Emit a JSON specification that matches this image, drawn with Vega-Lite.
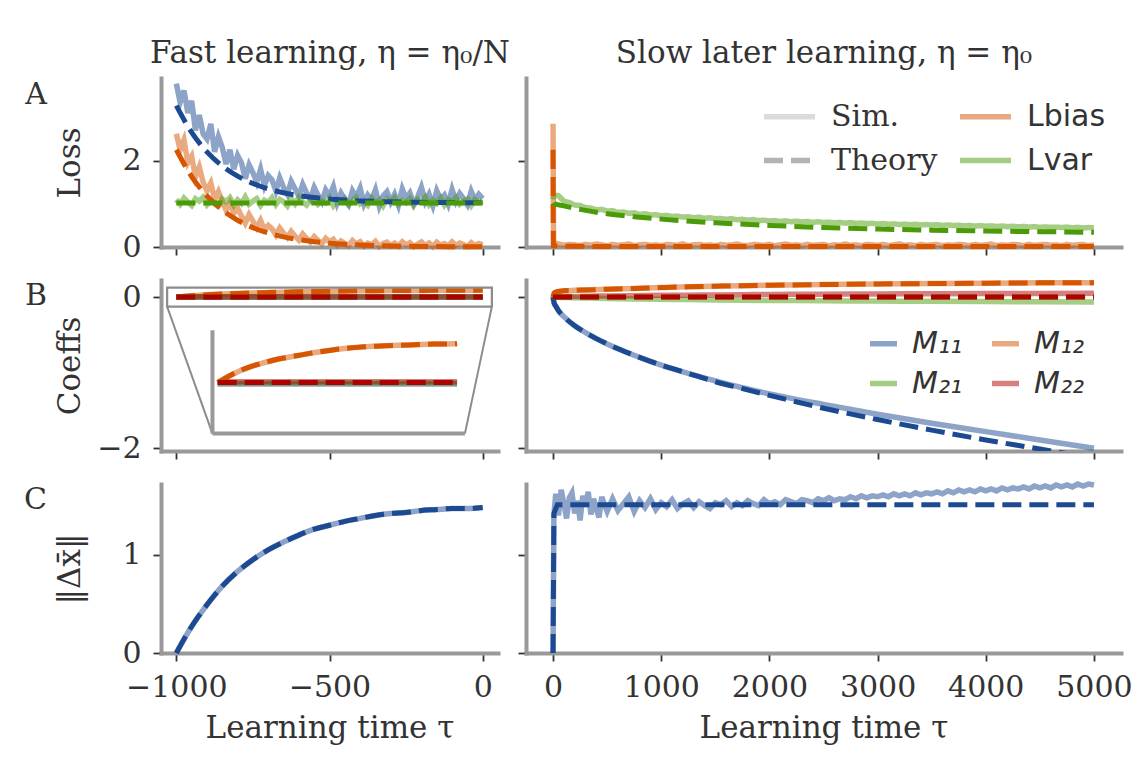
{
"$schema": "https://vega.github.io/schema/vega-lite/v6.json",
"background": "white",
"padding": {"left": 24, "top": 37, "right": 10, "bottom": 5},
"columns": 2,
"align": "each",
"bounds": "flush",
"spacing": {"row": 33, "column": 28},
"resolve": {"scale": {"color": "independent", "strokeDash": "independent"}, "legend": {"color": "independent", "strokeDash": "independent"}},
"datasets": {
"lossFastSim": [
{"t":-1000,"L":3.78,"Lbias":2.62,"Lvar":1.10},{"t":-987.5,"L":3.35,"Lbias":2.25,"Lvar":0.99},{"t":-975,"L":3.62,"Lbias":2.48,"Lvar":1.13},{"t":-962.5,"L":3.10,"Lbias":1.95,"Lvar":1.04},{"t":-950,"L":3.38,"Lbias":2.10,"Lvar":0.96},{"t":-937.5,"L":2.70,"Lbias":1.62,"Lvar":1.12},{"t":-925,"L":3.05,"Lbias":1.85,"Lvar":1.06},{"t":-912.5,"L":2.62,"Lbias":1.50,"Lvar":1.15},{"t":-900,"L":2.50,"Lbias":1.30,"Lvar":0.98},{"t":-887.5,"L":2.85,"Lbias":1.48,"Lvar":1.08},
{"t":-875,"L":2.20,"Lbias":1.10,"Lvar":1.02},{"t":-862.5,"L":2.55,"Lbias":1.28,"Lvar":0.95},{"t":-850,"L":2.30,"Lbias":1.05,"Lvar":1.11},{"t":-837.5,"L":1.92,"Lbias":0.85,"Lvar":1.05},{"t":-825,"L":2.25,"Lbias":1.02,"Lvar":1.14},{"t":-812.5,"L":1.80,"Lbias":0.78,"Lvar":0.97},{"t":-800,"L":2.12,"Lbias":0.90,"Lvar":1.09},{"t":-787.5,"L":1.95,"Lbias":0.72,"Lvar":1.01},{"t":-775,"L":1.58,"Lbias":0.55,"Lvar":1.16},{"t":-762.5,"L":1.90,"Lbias":0.75,"Lvar":0.99},
{"t":-750,"L":1.72,"Lbias":0.60,"Lvar":1.06},{"t":-737.5,"L":1.50,"Lbias":0.45,"Lvar":1.12},{"t":-725,"L":1.80,"Lbias":0.62,"Lvar":0.96},{"t":-712.5,"L":1.42,"Lbias":0.40,"Lvar":1.08},{"t":-700,"L":1.65,"Lbias":0.50,"Lvar":1.03},{"t":-687.5,"L":1.55,"Lbias":0.42,"Lvar":1.14},{"t":-675,"L":1.30,"Lbias":0.28,"Lvar":0.98},{"t":-662.5,"L":1.60,"Lbias":0.44,"Lvar":1.10},{"t":-650,"L":1.38,"Lbias":0.32,"Lvar":1.05},{"t":-637.5,"L":1.22,"Lbias":0.22,"Lvar":0.95},
{"t":-625,"L":1.52,"Lbias":0.36,"Lvar":1.12},{"t":-612.5,"L":1.35,"Lbias":0.25,"Lvar":1.00},{"t":-600,"L":1.18,"Lbias":0.16,"Lvar":1.15},{"t":-587.5,"L":1.45,"Lbias":0.30,"Lvar":1.04},{"t":-575,"L":1.25,"Lbias":0.20,"Lvar":0.97},{"t":-562.5,"L":1.12,"Lbias":0.12,"Lvar":1.09},{"t":-550,"L":1.38,"Lbias":0.24,"Lvar":1.13},{"t":-537.5,"L":1.20,"Lbias":0.15,"Lvar":0.99},{"t":-525,"L":1.05,"Lbias":0.08,"Lvar":1.07},{"t":-512.5,"L":1.32,"Lbias":0.20,"Lvar":1.02},
{"t":-500,"L":1.18,"Lbias":0.12,"Lvar":1.14},{"t":-487.5,"L":1.40,"Lbias":0.18,"Lvar":0.96},{"t":-475,"L":1.02,"Lbias":0.05,"Lvar":1.10},{"t":-462.5,"L":1.25,"Lbias":0.14,"Lvar":1.05},{"t":-450,"L":1.10,"Lbias":0.08,"Lvar":1.12},{"t":-437.5,"L":0.98,"Lbias":0.03,"Lvar":0.98},{"t":-425,"L":1.30,"Lbias":0.15,"Lvar":1.08},{"t":-412.5,"L":1.15,"Lbias":0.07,"Lvar":1.15},{"t":-400,"L":1.36,"Lbias":0.12,"Lvar":1.00},{"t":-387.5,"L":1.00,"Lbias":0.02,"Lvar":1.06},
{"t":-375,"L":1.20,"Lbias":0.09,"Lvar":0.97},{"t":-362.5,"L":1.08,"Lbias":0.05,"Lvar":1.13},{"t":-350,"L":1.32,"Lbias":0.13,"Lvar":1.03},{"t":-337.5,"L":0.95,"Lbias":0.01,"Lvar":1.09},{"t":-325,"L":1.18,"Lbias":0.08,"Lvar":0.95},{"t":-312.5,"L":1.28,"Lbias":0.11,"Lvar":1.11},{"t":-300,"L":1.04,"Lbias":0.03,"Lvar":1.05},{"t":-287.5,"L":1.22,"Lbias":0.09,"Lvar":1.14},{"t":-275,"L":0.97,"Lbias":0.02,"Lvar":0.99},{"t":-262.5,"L":1.34,"Lbias":0.12,"Lvar":1.07},
{"t":-250,"L":1.12,"Lbias":0.05,"Lvar":1.02},{"t":-237.5,"L":1.25,"Lbias":0.10,"Lvar":1.12},{"t":-225,"L":1.00,"Lbias":0.01,"Lvar":0.96},{"t":-212.5,"L":1.15,"Lbias":0.07,"Lvar":1.10},{"t":-200,"L":1.38,"Lbias":0.12,"Lvar":1.04},{"t":-187.5,"L":1.05,"Lbias":0.03,"Lvar":1.15},{"t":-175,"L":1.22,"Lbias":0.09,"Lvar":0.98},{"t":-162.5,"L":0.96,"Lbias":0.01,"Lvar":1.08},{"t":-150,"L":1.30,"Lbias":0.11,"Lvar":1.01},{"t":-137.5,"L":1.10,"Lbias":0.04,"Lvar":1.13},
{"t":-125,"L":1.20,"Lbias":0.08,"Lvar":0.97},{"t":-112.5,"L":0.99,"Lbias":0.02,"Lvar":1.09},{"t":-100,"L":1.33,"Lbias":0.12,"Lvar":1.05},{"t":-87.5,"L":1.06,"Lbias":0.04,"Lvar":1.14},{"t":-75,"L":1.24,"Lbias":0.09,"Lvar":0.99},{"t":-62.5,"L":1.12,"Lbias":0.06,"Lvar":1.06},{"t":-50,"L":0.98,"Lbias":0.01,"Lvar":1.11},{"t":-37.5,"L":1.29,"Lbias":0.10,"Lvar":0.96},{"t":-25,"L":1.08,"Lbias":0.03,"Lvar":1.10},{"t":-12.5,"L":1.22,"Lbias":0.08,"Lvar":1.03},
{"t":0,"L":1.12,"Lbias":0.05,"Lvar":1.06}
],
"lossFastTh": [
{"t":-1000,"L":3.27,"Lbias":2.25,"Lvar":1.02},{"t":-950,"L":2.65,"Lbias":1.63,"Lvar":1.02},{"t":-900,"L":2.20,"Lbias":1.18,"Lvar":1.02},{"t":-850,"L":1.875,"Lbias":0.855,"Lvar":1.02},{"t":-800,"L":1.64,"Lbias":0.619,"Lvar":1.02},{"t":-750,"L":1.47,"Lbias":0.448,"Lvar":1.02},{"t":-700,"L":1.345,"Lbias":0.325,"Lvar":1.02},{"t":-650,"L":1.255,"Lbias":0.235,"Lvar":1.02},{"t":-600,"L":1.19,"Lbias":0.17,"Lvar":1.02},{"t":-550,"L":1.143,"Lbias":0.123,"Lvar":1.02},{"t":-500,"L":1.109,"Lbias":0.089,"Lvar":1.02},{"t":-450,"L":1.085,"Lbias":0.065,"Lvar":1.02},{"t":-400,"L":1.067,"Lbias":0.047,"Lvar":1.02},{"t":-350,"L":1.054,"Lbias":0.034,"Lvar":1.02},{"t":-300,"L":1.045,"Lbias":0.025,"Lvar":1.02},{"t":-250,"L":1.038,"Lbias":0.018,"Lvar":1.02},{"t":-200,"L":1.033,"Lbias":0.013,"Lvar":1.02},{"t":-150,"L":1.029,"Lbias":0.009,"Lvar":1.02},{"t":-100,"L":1.027,"Lbias":0.007,"Lvar":1.02},{"t":-50,"L":1.025,"Lbias":0.005,"Lvar":1.02},{"t":0,"L":1.024,"Lbias":0.004,"Lvar":1.02}
],
"lossSlowSim": [
{"t":0,"Lbias":2.85,"Lvar":1.10},{"t":5,"Lbias":0.10,"Lvar":1.20},
{"t":50,"Lbias":0.07,"Lvar":1.19},{"t":100,"Lbias":0.04,"Lvar":1.06},{"t":150,"Lbias":0.06,"Lvar":1.03},{"t":200,"Lbias":0.05,"Lvar":0.97},{"t":250,"Lbias":0.03,"Lvar":0.96},{"t":300,"Lbias":0.06,"Lvar":0.91},{"t":350,"Lbias":0.04,"Lvar":0.90},{"t":400,"Lbias":0.07,"Lvar":0.86},{"t":450,"Lbias":0.05,"Lvar":0.87},{"t":500,"Lbias":0.03,"Lvar":0.83},
{"t":550,"Lbias":0.06,"Lvar":0.84},{"t":600,"Lbias":0.04,"Lvar":0.80},{"t":650,"Lbias":0.05,"Lvar":0.81},{"t":700,"Lbias":0.07,"Lvar":0.78},{"t":750,"Lbias":0.03,"Lvar":0.79},{"t":800,"Lbias":0.05,"Lvar":0.755},{"t":850,"Lbias":0.06,"Lvar":0.77},{"t":900,"Lbias":0.04,"Lvar":0.74},{"t":950,"Lbias":0.05,"Lvar":0.745},{"t":1000,"Lbias":0.03,"Lvar":0.72},
{"t":1050,"Lbias":0.06,"Lvar":0.73},{"t":1100,"Lbias":0.05,"Lvar":0.705},{"t":1150,"Lbias":0.04,"Lvar":0.715},{"t":1200,"Lbias":0.07,"Lvar":0.69},{"t":1250,"Lbias":0.03,"Lvar":0.70},{"t":1300,"Lbias":0.05,"Lvar":0.675},{"t":1350,"Lbias":0.06,"Lvar":0.69},{"t":1400,"Lbias":0.04,"Lvar":0.665},{"t":1450,"Lbias":0.05,"Lvar":0.675},{"t":1500,"Lbias":0.03,"Lvar":0.655},
{"t":1550,"Lbias":0.06,"Lvar":0.66},{"t":1600,"Lbias":0.04,"Lvar":0.64},{"t":1650,"Lbias":0.05,"Lvar":0.655},{"t":1700,"Lbias":0.07,"Lvar":0.63},{"t":1750,"Lbias":0.04,"Lvar":0.64},{"t":1800,"Lbias":0.03,"Lvar":0.62},{"t":1850,"Lbias":0.06,"Lvar":0.635},{"t":1900,"Lbias":0.05,"Lvar":0.61},{"t":1950,"Lbias":0.04,"Lvar":0.62},{"t":2000,"Lbias":0.06,"Lvar":0.60},
{"t":2050,"Lbias":0.03,"Lvar":0.61},{"t":2100,"Lbias":0.05,"Lvar":0.59},{"t":2150,"Lbias":0.07,"Lvar":0.605},{"t":2200,"Lbias":0.04,"Lvar":0.585},{"t":2250,"Lbias":0.05,"Lvar":0.595},{"t":2300,"Lbias":0.03,"Lvar":0.58},{"t":2350,"Lbias":0.06,"Lvar":0.59},{"t":2400,"Lbias":0.04,"Lvar":0.57},{"t":2450,"Lbias":0.05,"Lvar":0.585},{"t":2500,"Lbias":0.06,"Lvar":0.565},
{"t":2550,"Lbias":0.03,"Lvar":0.575},{"t":2600,"Lbias":0.05,"Lvar":0.56},{"t":2650,"Lbias":0.04,"Lvar":0.57},{"t":2700,"Lbias":0.07,"Lvar":0.55},{"t":2750,"Lbias":0.04,"Lvar":0.565},{"t":2800,"Lbias":0.05,"Lvar":0.545},{"t":2850,"Lbias":0.03,"Lvar":0.555},{"t":2900,"Lbias":0.06,"Lvar":0.54},{"t":2950,"Lbias":0.05,"Lvar":0.55},{"t":3000,"Lbias":0.04,"Lvar":0.53},
{"t":3050,"Lbias":0.06,"Lvar":0.545},{"t":3100,"Lbias":0.03,"Lvar":0.525},{"t":3150,"Lbias":0.05,"Lvar":0.535},{"t":3200,"Lbias":0.07,"Lvar":0.52},{"t":3250,"Lbias":0.04,"Lvar":0.53},{"t":3300,"Lbias":0.05,"Lvar":0.515},{"t":3350,"Lbias":0.03,"Lvar":0.525},{"t":3400,"Lbias":0.06,"Lvar":0.51},{"t":3450,"Lbias":0.04,"Lvar":0.52},{"t":3500,"Lbias":0.05,"Lvar":0.505},
{"t":3550,"Lbias":0.06,"Lvar":0.515},{"t":3600,"Lbias":0.03,"Lvar":0.50},{"t":3650,"Lbias":0.05,"Lvar":0.51},{"t":3700,"Lbias":0.04,"Lvar":0.495},{"t":3750,"Lbias":0.06,"Lvar":0.505},{"t":3800,"Lbias":0.05,"Lvar":0.49},{"t":3850,"Lbias":0.03,"Lvar":0.50},{"t":3900,"Lbias":0.06,"Lvar":0.485},{"t":3950,"Lbias":0.04,"Lvar":0.495},{"t":4000,"Lbias":0.05,"Lvar":0.48},
{"t":4050,"Lbias":0.07,"Lvar":0.49},{"t":4100,"Lbias":0.03,"Lvar":0.475},{"t":4150,"Lbias":0.05,"Lvar":0.485},{"t":4200,"Lbias":0.04,"Lvar":0.47},{"t":4250,"Lbias":0.06,"Lvar":0.48},{"t":4300,"Lbias":0.05,"Lvar":0.465},{"t":4350,"Lbias":0.03,"Lvar":0.475},{"t":4400,"Lbias":0.06,"Lvar":0.46},{"t":4450,"Lbias":0.04,"Lvar":0.47},{"t":4500,"Lbias":0.05,"Lvar":0.455},
{"t":4550,"Lbias":0.06,"Lvar":0.465},{"t":4600,"Lbias":0.04,"Lvar":0.455},{"t":4650,"Lbias":0.05,"Lvar":0.46},{"t":4700,"Lbias":0.03,"Lvar":0.45},{"t":4750,"Lbias":0.06,"Lvar":0.46},{"t":4800,"Lbias":0.04,"Lvar":0.445},{"t":4850,"Lbias":0.05,"Lvar":0.455},{"t":4900,"Lbias":0.06,"Lvar":0.44},{"t":4950,"Lbias":0.03,"Lvar":0.45},{"t":5000,"Lbias":0.05,"Lvar":0.445}
],
"lossSlowTh": [
{"t":0,"Lbias":2.25,"Lvar":1.02},{"t":3,"Lbias":0.03,"Lvar":1.01},{"t":100,"Lbias":0.02,"Lvar":0.95},{"t":250,"Lbias":0.015,"Lvar":0.87},{"t":500,"Lbias":0.012,"Lvar":0.77},{"t":750,"Lbias":0.01,"Lvar":0.70},{"t":1000,"Lbias":0.01,"Lvar":0.645},{"t":1500,"Lbias":0.01,"Lvar":0.56},{"t":2000,"Lbias":0.01,"Lvar":0.50},{"t":2500,"Lbias":0.01,"Lvar":0.45},{"t":3000,"Lbias":0.01,"Lvar":0.415},{"t":3500,"Lbias":0.01,"Lvar":0.39},{"t":4000,"Lbias":0.01,"Lvar":0.37},{"t":4500,"Lbias":0.01,"Lvar":0.355},{"t":5000,"Lbias":0.01,"Lvar":0.34}
],
"coefFastSim": [
{"t":-1000,"M11":-0.003,"M12":0.000,"M21":-0.001,"M22":0.002},{"t":-950,"M11":-0.003,"M12":0.016,"M21":-0.001,"M22":0.002},{"t":-900,"M11":-0.003,"M12":0.029,"M21":-0.001,"M22":0.002},{"t":-850,"M11":-0.003,"M12":0.039,"M21":-0.001,"M22":0.002},{"t":-800,"M11":-0.003,"M12":0.047,"M21":-0.001,"M22":0.002},{"t":-750,"M11":-0.003,"M12":0.054,"M21":-0.001,"M22":0.002},{"t":-700,"M11":-0.003,"M12":0.059,"M21":-0.001,"M22":0.002},{"t":-650,"M11":-0.003,"M12":0.064,"M21":-0.001,"M22":0.002},{"t":-600,"M11":-0.003,"M12":0.069,"M21":-0.001,"M22":0.002},{"t":-550,"M11":-0.003,"M12":0.073,"M21":-0.001,"M22":0.002},{"t":-500,"M11":-0.003,"M12":0.077,"M21":-0.001,"M22":0.002},{"t":-450,"M11":-0.003,"M12":0.080,"M21":-0.001,"M22":0.002},{"t":-400,"M11":-0.003,"M12":0.082,"M21":-0.001,"M22":0.002},{"t":-350,"M11":-0.003,"M12":0.084,"M21":-0.001,"M22":0.002},{"t":-300,"M11":-0.003,"M12":0.085,"M21":-0.001,"M22":0.002},{"t":-250,"M11":-0.003,"M12":0.086,"M21":-0.001,"M22":0.002},{"t":-200,"M11":-0.003,"M12":0.087,"M21":-0.001,"M22":0.002},{"t":-150,"M11":-0.003,"M12":0.088,"M21":-0.001,"M22":0.002},{"t":-100,"M11":-0.003,"M12":0.089,"M21":-0.001,"M22":0.002},{"t":-50,"M11":-0.003,"M12":0.089,"M21":-0.001,"M22":0.002},{"t":0,"M11":-0.003,"M12":0.090,"M21":-0.001,"M22":0.002}
],
"coefFastTh": [
{"t":-1000,"M11":0,"M12":0.000,"M21":0,"M22":0},{"t":-950,"M11":0,"M12":0.016,"M21":0,"M22":0},{"t":-900,"M11":0,"M12":0.029,"M21":0,"M22":0},{"t":-850,"M11":0,"M12":0.039,"M21":0,"M22":0},{"t":-800,"M11":0,"M12":0.047,"M21":0,"M22":0},{"t":-750,"M11":0,"M12":0.054,"M21":0,"M22":0},{"t":-700,"M11":0,"M12":0.059,"M21":0,"M22":0},{"t":-650,"M11":0,"M12":0.064,"M21":0,"M22":0},{"t":-600,"M11":0,"M12":0.069,"M21":0,"M22":0},{"t":-550,"M11":0,"M12":0.073,"M21":0,"M22":0},{"t":-500,"M11":0,"M12":0.077,"M21":0,"M22":0},{"t":-450,"M11":0,"M12":0.080,"M21":0,"M22":0},{"t":-400,"M11":0,"M12":0.082,"M21":0,"M22":0},{"t":-350,"M11":0,"M12":0.084,"M21":0,"M22":0},{"t":-300,"M11":0,"M12":0.085,"M21":0,"M22":0},{"t":-250,"M11":0,"M12":0.086,"M21":0,"M22":0},{"t":-200,"M11":0,"M12":0.087,"M21":0,"M22":0},{"t":-150,"M11":0,"M12":0.088,"M21":0,"M22":0},{"t":-100,"M11":0,"M12":0.089,"M21":0,"M22":0},{"t":-50,"M11":0,"M12":0.089,"M21":0,"M22":0},{"t":0,"M11":0,"M12":0.090,"M21":0,"M22":0}
],
"coefSlowSim": [
{"t":0,"M11":0,"M12":0,"M21":0,"M22":0},{"t":10,"M11":-0.08,"M12":0.05,"M21":0,"M22":0},{"t":25,"M11":-0.12,"M12":0.065,"M21":-0.002,"M22":0.001},{"t":50,"M11":-0.18,"M12":0.075,"M21":-0.004,"M22":0.002},{"t":100,"M11":-0.26,"M12":0.082,"M21":-0.006,"M22":0.004},{"t":200,"M11":-0.38,"M12":0.088,"M21":-0.01,"M22":0.007},{"t":300,"M11":-0.47,"M12":0.093,"M21":-0.013,"M22":0.009},{"t":400,"M11":-0.55,"M12":0.098,"M21":-0.016,"M22":0.012},{"t":500,"M11":-0.62,"M12":0.103,"M21":-0.019,"M22":0.014},{"t":750,"M11":-0.77,"M12":0.113,"M21":-0.025,"M22":0.018},{"t":1000,"M11":-0.90,"M12":0.125,"M21":-0.03,"M22":0.022},{"t":1250,"M11":-1.01,"M12":0.135,"M21":-0.034,"M22":0.025},{"t":1500,"M11":-1.11,"M12":0.143,"M21":-0.038,"M22":0.028},{"t":1750,"M11":-1.20,"M12":0.15,"M21":-0.042,"M22":0.031},{"t":2000,"M11":-1.28,"M12":0.156,"M21":-0.045,"M22":0.034},{"t":2500,"M11":-1.42,"M12":0.165,"M21":-0.05,"M22":0.038},{"t":3000,"M11":-1.55,"M12":0.172,"M21":-0.054,"M22":0.041},{"t":3500,"M11":-1.67,"M12":0.178,"M21":-0.057,"M22":0.044},{"t":4000,"M11":-1.78,"M12":0.183,"M21":-0.06,"M22":0.046},{"t":4500,"M11":-1.89,"M12":0.187,"M21":-0.063,"M22":0.048},{"t":5000,"M11":-2.00,"M12":0.19,"M21":-0.065,"M22":0.05}
],
"coefSlowTh": [
{"t":0,"M11":0,"M12":0,"M21":0,"M22":0},{"t":10,"M11":-0.08,"M12":0.05,"M21":0,"M22":0},{"t":25,"M11":-0.12,"M12":0.065,"M21":0,"M22":0},{"t":50,"M11":-0.18,"M12":0.075,"M21":0,"M22":0},{"t":100,"M11":-0.26,"M12":0.082,"M21":0,"M22":0},{"t":200,"M11":-0.38,"M12":0.088,"M21":0,"M22":0},{"t":300,"M11":-0.47,"M12":0.093,"M21":0,"M22":0},{"t":400,"M11":-0.55,"M12":0.098,"M21":0,"M22":0},{"t":500,"M11":-0.62,"M12":0.103,"M21":0,"M22":0},{"t":750,"M11":-0.77,"M12":0.113,"M21":0,"M22":0},{"t":1000,"M11":-0.90,"M12":0.125,"M21":0,"M22":0},{"t":1250,"M11":-1.01,"M12":0.135,"M21":0,"M22":0},{"t":1500,"M11":-1.12,"M12":0.143,"M21":0,"M22":0},{"t":1750,"M11":-1.21,"M12":0.15,"M21":0,"M22":0},{"t":2000,"M11":-1.30,"M12":0.156,"M21":0,"M22":0},{"t":2500,"M11":-1.47,"M12":0.165,"M21":0,"M22":0},{"t":3000,"M11":-1.62,"M12":0.172,"M21":0,"M22":0},{"t":3500,"M11":-1.76,"M12":0.178,"M21":0,"M22":0},{"t":4000,"M11":-1.89,"M12":0.183,"M21":0,"M22":0},{"t":4500,"M11":-2.01,"M12":0.187,"M21":0,"M22":0},{"t":5000,"M11":-2.13,"M12":0.19,"M21":0,"M22":0}
],
"dxFast": [
{"t":-1000,"v":0},{"t":-950,"v":0.27},{"t":-900,"v":0.49},{"t":-850,"v":0.68},{"t":-800,"v":0.83},{"t":-750,"v":0.95},{"t":-700,"v":1.05},{"t":-650,"v":1.13},{"t":-600,"v":1.20},{"t":-550,"v":1.26},{"t":-500,"v":1.30},{"t":-450,"v":1.34},{"t":-400,"v":1.37},{"t":-350,"v":1.40},{"t":-300,"v":1.42},{"t":-250,"v":1.43},{"t":-200,"v":1.45},{"t":-150,"v":1.46},{"t":-100,"v":1.47},{"t":-50,"v":1.47},{"t":0,"v":1.48}
],
"dxSlowSim": [
{"t":0,"v":0},{"t":8,"v":1.40},{"t":25,"v":1.62},{"t":50,"v":1.40},{"t":75,"v":1.66},{"t":100,"v":1.52},{"t":125,"v":1.37},{"t":150,"v":1.58},{"t":175,"v":1.63},{"t":200,"v":1.42},{"t":225,"v":1.55},{"t":250,"v":1.35},{"t":275,"v":1.60},{"t":300,"v":1.49},{"t":325,"v":1.64},{"t":350,"v":1.41},{"t":375,"v":1.57},{"t":400,"v":1.46},{"t":425,"v":1.38},{"t":450,"v":1.59},{"t":475,"v":1.51},{"t":500,"v":1.44},
{"t":550,"v":1.57},{"t":600,"v":1.45},{"t":650,"v":1.52},{"t":700,"v":1.59},{"t":750,"v":1.44},{"t":800,"v":1.55},{"t":850,"v":1.48},{"t":900,"v":1.57},{"t":950,"v":1.46},{"t":1000,"v":1.53},{"t":1050,"v":1.49},{"t":1100,"v":1.56},{"t":1150,"v":1.47},{"t":1200,"v":1.52},{"t":1250,"v":1.55},{"t":1300,"v":1.48},{"t":1350,"v":1.54},{"t":1400,"v":1.50},{"t":1450,"v":1.47},{"t":1500,"v":1.53},
{"t":1550,"v":1.51},{"t":1600,"v":1.55},{"t":1650,"v":1.49},{"t":1700,"v":1.53},{"t":1750,"v":1.50},{"t":1800,"v":1.55},{"t":1850,"v":1.52},{"t":1900,"v":1.50},{"t":1950,"v":1.56},{"t":2000,"v":1.52},{"t":2050,"v":1.54},{"t":2100,"v":1.51},{"t":2150,"v":1.56},{"t":2200,"v":1.54},{"t":2250,"v":1.52},{"t":2300,"v":1.56},{"t":2350,"v":1.55},{"t":2400,"v":1.53},{"t":2450,"v":1.57},{"t":2500,"v":1.55},
{"t":2550,"v":1.58},{"t":2600,"v":1.55},{"t":2650,"v":1.57},{"t":2700,"v":1.56},{"t":2750,"v":1.59},{"t":2800,"v":1.57},{"t":2850,"v":1.60},{"t":2900,"v":1.58},{"t":2950,"v":1.60},{"t":3000,"v":1.59},{"t":3050,"v":1.61},{"t":3100,"v":1.59},{"t":3150,"v":1.62},{"t":3200,"v":1.60},{"t":3250,"v":1.62},{"t":3300,"v":1.60},{"t":3350,"v":1.63},{"t":3400,"v":1.61},{"t":3450,"v":1.63},{"t":3500,"v":1.62},
{"t":3550,"v":1.64},{"t":3600,"v":1.62},{"t":3650,"v":1.65},{"t":3700,"v":1.63},{"t":3750,"v":1.66},{"t":3800,"v":1.64},{"t":3850,"v":1.66},{"t":3900,"v":1.64},{"t":3950,"v":1.67},{"t":4000,"v":1.65},{"t":4050,"v":1.67},{"t":4100,"v":1.65},{"t":4150,"v":1.68},{"t":4200,"v":1.66},{"t":4250,"v":1.68},{"t":4300,"v":1.67},{"t":4350,"v":1.69},{"t":4400,"v":1.67},{"t":4450,"v":1.70},{"t":4500,"v":1.68},
{"t":4550,"v":1.70},{"t":4600,"v":1.68},{"t":4650,"v":1.71},{"t":4700,"v":1.69},{"t":4750,"v":1.71},{"t":4800,"v":1.69},{"t":4850,"v":1.72},{"t":4900,"v":1.70},{"t":4950,"v":1.72},{"t":5000,"v":1.71}
],
"dxSlowTh": [
{"t":0,"v":0},{"t":8,"v":1.42},{"t":40,"v":1.51},{"t":5000,"v":1.51}
],
"insetBox": [{"x":-1030,"x2":30,"y":-0.127,"y2":0.124}],
"insetConn": [{"x":-1030,"y":-0.127,"x2":-882,"y2":-1.806},{"x":30,"y":-0.127,"x2":-58,"y2":-1.806}],
"insetSpines": [{"x":-882,"y":-0.44,"x2":-882,"y2":-1.806},{"x":-882,"y":-1.806,"x2":-58,"y2":-1.806}]
},
"concat": [
{
"width": 337, "height": 169,
"title": {"text": "A", "orient": "left", "anchor": "end", "frame": "group", "angle": 0, "align": "left", "baseline": "top", "offset": 7, "dy": 2},
"layer": [
{"data": {"name": "lossFastSim"}, "transform": [{"fold": ["L","Lbias","Lvar"], "as": ["s","v"]}],
 "mark": {"type": "line", "strokeWidth": 5.5, "opacity": 0.5},
 "encoding": {
  "x": {"field": "t", "type": "quantitative", "scale": {"domain": [-1050, 50], "nice": false, "zero": false}, "axis": {"values": [-1000,-500,0], "labels": false, "title": null}},
  "y": {"field": "v", "type": "quantitative", "scale": {"domain": [0, 3.91], "nice": false, "zero": false}, "axis": {"values": [0,2], "title": "Loss"}},
  "color": {"field": "s", "type": "nominal", "scale": {"domain": ["L","Lbias","Lvar"], "range": ["#1c4a92","#d55500","#4b9b09"]}, "legend": null}
 }},
{"data": {"name": "lossFastTh"}, "transform": [{"fold": ["L","Lbias","Lvar"], "as": ["s","v"]}],
 "mark": {"type": "line", "strokeWidth": 5, "strokeDash": [19,8], "interpolate": "monotone"},
 "encoding": {
  "x": {"field": "t", "type": "quantitative", "axis": {"orient": "top", "title": "Fast learning, η = η₀/N", "labels": false, "ticks": false, "domain": false, "titleY": -16, "titleBaseline": "alphabetic"}},
  "y": {"field": "v", "type": "quantitative", "title": "Loss"},
  "color": {"field": "s", "type": "nominal", "legend": null}
 }}
],
"resolve": {"axis": {"x": "independent"}}
},
{
"width": 595, "height": 169,
"layer": [
{"data": {"name": "lossSlowSim"}, "transform": [{"fold": ["Lbias","Lvar"], "as": ["s","v"]}],
 "mark": {"type": "line", "strokeWidth": 5.5, "opacity": 0.5},
 "encoding": {
  "x": {"field": "t", "type": "quantitative", "scale": {"domain": [-250, 5250], "nice": false, "zero": false}, "axis": {"values": [0,1000,2000,3000,4000,5000], "labels": false, "title": null}},
  "y": {"field": "v", "type": "quantitative", "scale": {"domain": [0, 3.91], "nice": false, "zero": false}, "axis": {"values": [0,2], "labels": false, "title": null}},
  "color": {"field": "s", "type": "nominal", "scale": {"domain": ["Sim.","Theory","Lbias","Lvar"], "range": ["#b9b9b9","#6a6a6a","#d55500","#4b9b09"]},
   "legend": {"orient": "none", "legendX": 235, "legendY": 10, "columns": 2, "symbolType": "stroke", "symbolSize": 2601, "symbolStrokeWidth": 5.5, "symbolOpacity": 0.5, "labelFont": "DejaVu Serif", "labelFontSize": 30, "labelColor": "#333333", "labelOffset": 13, "columnPadding": 11, "rowPadding": 0, "title": null, "padding": 0, "labelLimit": 400,
    "encode": {"labels": {"update": {"font": {"signal": "(datum.label == 'Sim.' || datum.label == 'Theory') ? 'DejaVu Serif' : 'DejaVu Sans'"}}}}}},
  "strokeDash": {"field": "s", "type": "nominal", "scale": {"domain": ["Sim.","Theory","Lbias","Lvar"], "range": [[1,0],[19,8],[1,0],[1,0]]},
   "legend": {"orient": "none", "legendX": 235, "legendY": 10, "columns": 2, "symbolType": "stroke", "symbolSize": 2601, "symbolStrokeWidth": 5.5, "symbolOpacity": 0.5, "labelFont": "DejaVu Serif", "labelFontSize": 30, "labelColor": "#333333", "labelOffset": 13, "columnPadding": 11, "rowPadding": 0, "title": null, "padding": 0, "labelLimit": 400,
    "encode": {"labels": {"update": {"font": {"signal": "(datum.label == 'Sim.' || datum.label == 'Theory') ? 'DejaVu Serif' : 'DejaVu Sans'"}}}}}}
 }},
{"data": {"name": "lossSlowTh"}, "transform": [{"fold": ["Lbias","Lvar"], "as": ["s","v"]}],
 "mark": {"type": "line", "strokeWidth": 5, "strokeDash": [19,8], "interpolate": "monotone"},
 "encoding": {
  "x": {"field": "t", "type": "quantitative", "axis": {"orient": "top", "title": "Slow later learning, η = η₀", "labels": false, "ticks": false, "domain": false, "titleY": -16, "titleBaseline": "alphabetic"}},
  "y": {"field": "v", "type": "quantitative", "title": null},
  "color": {"field": "s", "type": "nominal"}
 }}
],
"resolve": {"axis": {"x": "independent"}}
},
{
"width": 337, "height": 171,
"title": {"text": "B", "orient": "left", "anchor": "end", "frame": "group", "angle": 0, "align": "left", "baseline": "top", "offset": 7, "dy": 1},
"layer": [
{"layer": [
 {"mark": {"type": "rule", "color": "#bdbdbd", "strokeWidth": 5},
  "encoding": {"y": {"datum": 0, "type": "quantitative", "scale": {"domain": [-2.036, 0.225], "nice": false, "zero": false}, "axis": {"values": [-2,0], "title": "Coeffs"}}}},
 {"data": {"name": "coefFastSim"}, "transform": [{"fold": ["M11","M12","M21","M22"], "as": ["s","v"]}],
  "mark": {"type": "line", "strokeWidth": 5.5, "opacity": 0.5},
  "encoding": {
   "x": {"field": "t", "type": "quantitative", "scale": {"domain": [-1050, 50], "nice": false, "zero": false}, "axis": {"values": [-1000,-500,0], "labels": false, "title": null}},
   "y": {"field": "v", "type": "quantitative", "title": "Coeffs"},
   "color": {"field": "s", "type": "nominal", "scale": {"domain": ["M11","M12","M21","M22"], "range": ["#1c4a92","#d55500","#4b9b09","#b00000"]}, "legend": null}
  }},
 {"data": {"name": "coefFastTh"}, "transform": [{"fold": ["M11","M12","M21","M22"], "as": ["s","v"]}],
  "mark": {"type": "line", "strokeWidth": 5, "strokeDash": [19,8], "interpolate": "monotone"},
  "encoding": {
   "x": {"field": "t", "type": "quantitative"},
   "y": {"field": "v", "type": "quantitative", "title": "Coeffs"},
   "color": {"field": "s", "type": "nominal", "legend": null}
  }},
 {"data": {"name": "insetBox"}, "mark": {"type": "rect", "fillOpacity": 0, "stroke": "#8c8c8c", "strokeWidth": 2.2},
  "encoding": {"x": {"field": "x", "type": "quantitative"}, "x2": {"field": "x2"}, "y": {"field": "y", "type": "quantitative", "title": "Coeffs"}, "y2": {"field": "y2"}}},
 {"data": {"name": "insetConn"}, "mark": {"type": "rule", "color": "#8c8c8c", "strokeWidth": 2},
  "encoding": {"x": {"field": "x", "type": "quantitative"}, "x2": {"field": "x2"}, "y": {"field": "y", "type": "quantitative", "title": "Coeffs"}, "y2": {"field": "y2"}}},
 {"data": {"name": "insetSpines"}, "mark": {"type": "rule", "color": "#999999", "strokeWidth": 4},
  "encoding": {"x": {"field": "x", "type": "quantitative"}, "x2": {"field": "x2"}, "y": {"field": "y", "type": "quantitative", "title": "Coeffs"}, "y2": {"field": "y2"}}}
]},
{"layer": [
 {"mark": {"type": "rule", "color": "#bdbdbd", "strokeWidth": 5},
  "encoding": {"x": {"datum": -1015, "type": "quantitative", "scale": {"domain": [-1237, 171], "nice": false, "zero": false}, "axis": null}, "x2": {"datum": 30}, "y": {"datum": 0, "type": "quantitative", "scale": {"domain": [-0.158, 0.237], "nice": false, "zero": false}, "axis": null}}},
 {"data": {"name": "coefFastSim"}, "transform": [{"fold": ["M11","M12","M21","M22"], "as": ["s","v"]}],
  "mark": {"type": "line", "strokeWidth": 5.5, "opacity": 0.5},
  "encoding": {
   "x": {"field": "t", "type": "quantitative", "axis": null},
   "y": {"field": "v", "type": "quantitative", "axis": null},
   "color": {"field": "s", "type": "nominal", "legend": null}
  }},
 {"data": {"name": "coefFastTh"}, "transform": [{"fold": ["M11","M12","M21","M22"], "as": ["s","v"]}],
  "mark": {"type": "line", "strokeWidth": 5, "strokeDash": [19,8], "interpolate": "monotone"},
  "encoding": {
   "x": {"field": "t", "type": "quantitative", "axis": null},
   "y": {"field": "v", "type": "quantitative", "axis": null},
   "color": {"field": "s", "type": "nominal", "legend": null}
  }}
]}
],
"resolve": {"scale": {"x": "independent", "y": "independent"}}
},
{
"width": 595, "height": 171,
"layer": [
 {"mark": {"type": "rule", "color": "#bdbdbd", "strokeWidth": 5},
  "encoding": {"y": {"datum": 0, "type": "quantitative", "scale": {"domain": [-2.036, 0.225], "nice": false, "zero": false}, "axis": {"values": [-2,0], "labels": false, "title": null}}}},
 {"data": {"name": "coefSlowSim"}, "transform": [{"fold": ["M11","M12","M21","M22"], "as": ["s","v"]}],
  "mark": {"type": "line", "strokeWidth": 5.5, "opacity": 0.5, "interpolate": "monotone", "clip": true},
  "encoding": {
   "x": {"field": "t", "type": "quantitative", "scale": {"domain": [-250, 5250], "nice": false, "zero": false}, "axis": {"values": [0,1000,2000,3000,4000,5000], "labels": false, "title": null}},
   "y": {"field": "v", "type": "quantitative", "title": null},
   "color": {"field": "s", "type": "nominal", "scale": {"domain": ["M11","M21","M12","M22"], "range": ["#1c4a92","#4b9b09","#d55500","#b00000"]},
    "legend": {"orient": "none", "legendX": 341, "legendY": 47, "columns": 2, "symbolType": "stroke", "symbolSize": 729, "symbolStrokeWidth": 5.5, "symbolOpacity": 0.5, "labelFont": "DejaVu Sans", "labelFontStyle": "italic", "labelFontSize": 30, "labelColor": "#333333", "labelOffset": 12, "columnPadding": 19, "rowPadding": 8, "title": null, "padding": 0,
     "labelExpr": "datum.label == 'M11' ? 'M₁₁' : datum.label == 'M12' ? 'M₁₂' : datum.label == 'M21' ? 'M₂₁' : 'M₂₂'"}}
  }},
 {"data": {"name": "coefSlowTh"}, "transform": [{"fold": ["M11","M12","M21","M22"], "as": ["s","v"]}],
  "mark": {"type": "line", "strokeWidth": 5, "strokeDash": [19,8], "interpolate": "monotone", "clip": true},
  "encoding": {
   "x": {"field": "t", "type": "quantitative"},
   "y": {"field": "v", "type": "quantitative", "title": null},
   "color": {"field": "s", "type": "nominal"}
  }}
]
},
{
"width": 337, "height": 169,
"title": {"text": "C", "orient": "left", "anchor": "end", "frame": "group", "angle": 0, "align": "left", "baseline": "top", "offset": 7, "dy": 1},
"layer": [
 {"data": {"name": "dxFast"}, "mark": {"type": "line", "strokeWidth": 5.5, "opacity": 0.5, "color": "#1c4a92", "interpolate": "monotone"},
  "encoding": {
   "x": {"field": "t", "type": "quantitative", "scale": {"domain": [-1050, 50], "nice": false, "zero": false}, "axis": {"values": [-1000,-500,0], "title": "Learning time τ"}},
   "y": {"field": "v", "type": "quantitative", "scale": {"domain": [0, 1.72], "nice": false, "zero": false}, "axis": {"values": [0,1], "title": "‖Δx̄‖"}}
  }},
 {"data": {"name": "dxFast"}, "mark": {"type": "line", "strokeWidth": 5, "strokeDash": [19,8], "color": "#1c4a92", "interpolate": "monotone"},
  "encoding": {
   "x": {"field": "t", "type": "quantitative", "title": "Learning time τ"},
   "y": {"field": "v", "type": "quantitative", "title": "‖Δx̄‖"}
  }}
]
},
{
"width": 595, "height": 169,
"layer": [
 {"data": {"name": "dxSlowSim"}, "mark": {"type": "line", "strokeWidth": 5.5, "opacity": 0.5, "color": "#1c4a92"},
  "encoding": {
   "x": {"field": "t", "type": "quantitative", "scale": {"domain": [-250, 5250], "nice": false, "zero": false}, "axis": {"values": [0,1000,2000,3000,4000,5000], "title": "Learning time τ"}},
   "y": {"field": "v", "type": "quantitative", "scale": {"domain": [0, 1.72], "nice": false, "zero": false}, "axis": {"values": [0,1], "labels": false, "title": null}}
  }},
 {"data": {"name": "dxSlowTh"}, "mark": {"type": "line", "strokeWidth": 5, "strokeDash": [19,8], "color": "#1c4a92"},
  "encoding": {
   "x": {"field": "t", "type": "quantitative", "title": "Learning time τ"},
   "y": {"field": "v", "type": "quantitative", "title": null}
  }}
]
}
],
"config": {
 "font": "DejaVu Serif",
 "numberFormat": "d",
 "view": {"stroke": null},
 "axis": {"domainColor": "#999999", "domainWidth": 4, "domainCap": "square", "tickColor": "#333333", "tickWidth": 1.8, "tickSize": 8, "labelFont": "DejaVu Serif", "labelFontSize": 30, "labelColor": "#333333", "labelFlush": false, "labelOverlap": false, "titleFont": "DejaVu Serif", "titleFontSize": 31, "titleFontWeight": "normal", "titleColor": "#333333", "grid": false},
 "axisX": {"labelBaseline": "alphabetic", "labelPadding": 35, "titleBaseline": "alphabetic", "titleY": 84},
 "axisY": {"labelPadding": 12, "titleBaseline": "alphabetic", "titleX": -82},
 "title": {"font": "DejaVu Serif", "fontSize": 30, "fontWeight": "normal", "color": "#333333"},
 "line": {"strokeCap": "butt"}
}
}
